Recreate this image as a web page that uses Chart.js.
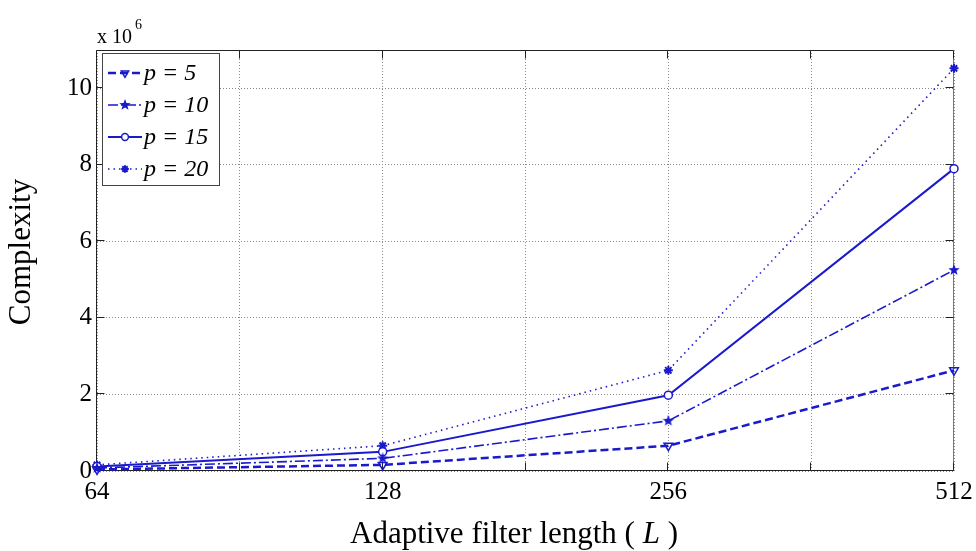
<!DOCTYPE html>
<html>
<head>
<meta charset="utf-8">
<script src="https://cdn.jsdelivr.net/npm/chart.js@4.4.1/dist/chart.umd.min.js"></script>
<style>
  body { margin: 0; background: #fff; }
</style>
</head>
<body>
<canvas id="chart" width="976" height="551"></canvas>
<script>
// values in units of 10^6
const filterLengths = ['64', '128', '256', '512'];
const seriesLabels = ['p = 5', 'p = 10', 'p = 15', 'p = 20'];
const p5 = [0.04, 0.16, 0.66, 2.63];
const p10 = [0.08, 0.33, 1.31, 5.25];
const p15 = [0.12, 0.50, 1.98, 7.90];
const p20 = [0.16, 0.66, 2.63, 10.52];
const yTicks = [0, 2, 4, 6, 8, 10];
const xTicks = [0, 0.5, 1, 1.5, 2, 2.5, 3];

const blue = '#1a1acc';
const serif = '"Liberation Serif", "Times New Roman", serif';

/* Pentagram marker (MATLAB 'p') */
function pentagram(size) {
  const c = document.createElement('canvas');
  c.width = size; c.height = size;
  const g = c.getContext('2d');
  const r = size / 2, ri = r * 0.42;
  g.beginPath();
  for (let i = 0; i < 10; i++) {
    const a = -Math.PI / 2 + i * Math.PI / 5;
    const rr = i % 2 ? ri : r;
    g.lineTo(r + rr * Math.cos(a), r + rr * Math.sin(a));
  }
  g.closePath();
  g.fillStyle = blue;
  g.fill();
  return c;
}

function toPoints(arr) {
  return arr.map((v, i) => ({ x: i, y: v }));
}

const datasets = [
  { label: seriesLabels[0], data: toPoints(p5), borderWidth: 2.5, borderDash: [8, 4],
    pointStyle: 'triangle', rotation: 180, pointRadius: 5, pointBorderWidth: 1.5,
    pointBackgroundColor: 'rgba(255,255,255,0)' },
  { label: seriesLabels[1], data: toPoints(p10), borderWidth: 1.6, borderDash: [10, 3, 2, 3],
    pointStyle: pentagram(12), pointRadius: 6, pointBorderWidth: 1,
    pointBackgroundColor: blue },
  { label: seriesLabels[2], data: toPoints(p15), borderWidth: 2, borderDash: [],
    pointStyle: 'circle', pointRadius: 4, pointBorderWidth: 1.5,
    pointBackgroundColor: '#fff' },
  { label: seriesLabels[3], data: toPoints(p20), borderWidth: 1.6, borderDash: [1.5, 4],
    pointStyle: 'star', pointRadius: 4.5, pointBorderWidth: 2,
    pointBackgroundColor: blue }
].map(d => Object.assign({
  borderColor: blue, pointBorderColor: blue, fill: false, tension: 0, clip: false
}, d));

/* Axes box with inward ticks */
const frame = {
  id: 'frame',
  beforeDatasetsDraw(chart) {
    const { ctx, chartArea: a, scales: { x, y } } = chart;
    const L = Math.round(a.left) - 0.5, R = Math.round(a.right) - 0.5;
    const T = Math.round(a.top) + 0.5, B = Math.round(a.bottom) - 0.5;
    ctx.save();
    ctx.setLineDash([]);
    ctx.lineWidth = 1;
    ctx.strokeStyle = '#222';
    ctx.beginPath();
    ctx.moveTo(R, T); ctx.lineTo(L, T); ctx.lineTo(L, B); ctx.lineTo(R, B);
    ctx.stroke();
    ctx.strokeStyle = '#777';
    ctx.beginPath(); ctx.moveTo(R, T); ctx.lineTo(R, B); ctx.stroke();
    ctx.strokeStyle = '#222';
    ctx.beginPath();
    const tl = 8;
    xTicks.forEach(v => {
      const px = Math.round(x.getPixelForValue(v)) - 0.5;
      ctx.moveTo(px, B); ctx.lineTo(px, B - tl);
      ctx.moveTo(px, T); ctx.lineTo(px, T + tl);
    });
    yTicks.forEach(v => {
      const py = Math.round(y.getPixelForValue(v)) - 0.5;
      ctx.moveTo(L, py); ctx.lineTo(L + tl, py);
      ctx.moveTo(R, py); ctx.lineTo(R - tl, py);
    });
    ctx.stroke();
    ctx.restore();
  }
};

/* Axis titles, exponent and legend */
const annotations = {
  id: 'annotations',
  afterDraw(chart) {
    const { ctx, chartArea: a } = chart;
    ctx.save();
    ctx.fillStyle = '#000';

    // y title
    ctx.save();
    ctx.translate(22, 252);
    ctx.rotate(-Math.PI / 2);
    ctx.font = '31px ' + serif;
    ctx.textAlign = 'center';
    ctx.textBaseline = 'middle';
    ctx.fillText('Complexity', 0, 0);
    ctx.restore();

    // x title with italic L
    const parts = [
      ['Adaptive filter length ( ', '31px ' + serif],
      ['L', 'italic 31px ' + serif],
      [' )', '31px ' + serif]
    ];
    let w = 0;
    parts.forEach(p => { ctx.font = p[1]; w += ctx.measureText(p[0]).width; });
    let tx = 514 - w / 2;
    ctx.textAlign = 'left';
    ctx.textBaseline = 'alphabetic';
    parts.forEach(p => {
      ctx.font = p[1];
      ctx.fillText(p[0], tx, 543);
      tx += ctx.measureText(p[0]).width;
    });

    // exponent label
    ctx.font = '20px ' + serif;
    ctx.fillText('x 10', a.left, 43);
    const ew = ctx.measureText('x 10').width;
    ctx.font = '14px ' + serif;
    ctx.fillText('6', a.left + ew + 3, 29);

    // legend
    const bx = 102.5, by = 53.5, bw = 117, bh = 132;
    ctx.fillStyle = '#fff';
    ctx.fillRect(bx, by, bw, bh);
    ctx.strokeStyle = '#444';
    ctx.lineWidth = 1;
    ctx.setLineDash([]);
    ctx.strokeRect(bx, by, bw, bh);
    chart.data.datasets.forEach((ds, i) => {
      const ry = 73 + i * 32;
      ctx.strokeStyle = ds.borderColor;
      ctx.lineWidth = ds.borderWidth;
      ctx.setLineDash(ds.borderDash);
      ctx.beginPath();
      ctx.moveTo(108, ry); ctx.lineTo(142, ry);
      ctx.stroke();
      ctx.setLineDash([]);
      ctx.fillStyle = ds.pointBackgroundColor;
      ctx.strokeStyle = ds.pointBorderColor;
      ctx.lineWidth = ds.pointBorderWidth;
      Chart.helpers.drawPoint(ctx, {
        pointStyle: ds.pointStyle, rotation: ds.rotation || 0,
        radius: ds.pointRadius * 0.85, borderWidth: ds.pointBorderWidth
      }, 125, ry);
      ctx.fillStyle = '#000';
      ctx.font = 'italic 24px ' + serif;
      ctx.textBaseline = 'middle';
      ctx.fillText(ds.label, 144, ry + 1);
      ctx.textBaseline = 'alphabetic';
    });
    ctx.restore();
  }
};

new Chart(document.getElementById('chart'), {
  type: 'line',
  data: { datasets: datasets },
  options: {
    responsive: false,
    animation: false,
    devicePixelRatio: 1,
    layout: { padding: { top: 50, right: 22, left: 0, bottom: 0 } },
    plugins: { legend: { display: false }, tooltip: { enabled: false } },
    scales: {
      x: {
        type: 'linear',
        min: 0,
        max: 3,
        afterBuildTicks: s => { s.ticks = xTicks.map(v => ({ value: v })); },
        afterFit: s => { s.height = 80; s.paddingLeft = 0; s.paddingRight = 0; },
        ticks: {
          autoSkip: false,
          maxRotation: 0,
          padding: 6,
          color: '#000',
          font: { family: serif, size: 25 },
          callback: v => Number.isInteger(v) ? filterLengths[v] : ''
        },
        grid: { color: '#8a8a8a', lineWidth: 1, drawTicks: false },
        border: { display: false, dash: [1, 2] }
      },
      y: {
        min: 0,
        max: 11,
        afterBuildTicks: s => { s.ticks = yTicks.map(v => ({ value: v })); },
        afterFit: s => { s.width = 97; s.paddingTop = 0; s.paddingBottom = 0; },
        ticks: {
          padding: 5,
          color: '#000',
          font: { family: serif, size: 25 }
        },
        grid: { color: '#8a8a8a', lineWidth: 1, drawTicks: false },
        border: { display: false, dash: [1, 2] }
      }
    }
  },
  plugins: [frame, annotations]
});
</script>
</body>
</html>
